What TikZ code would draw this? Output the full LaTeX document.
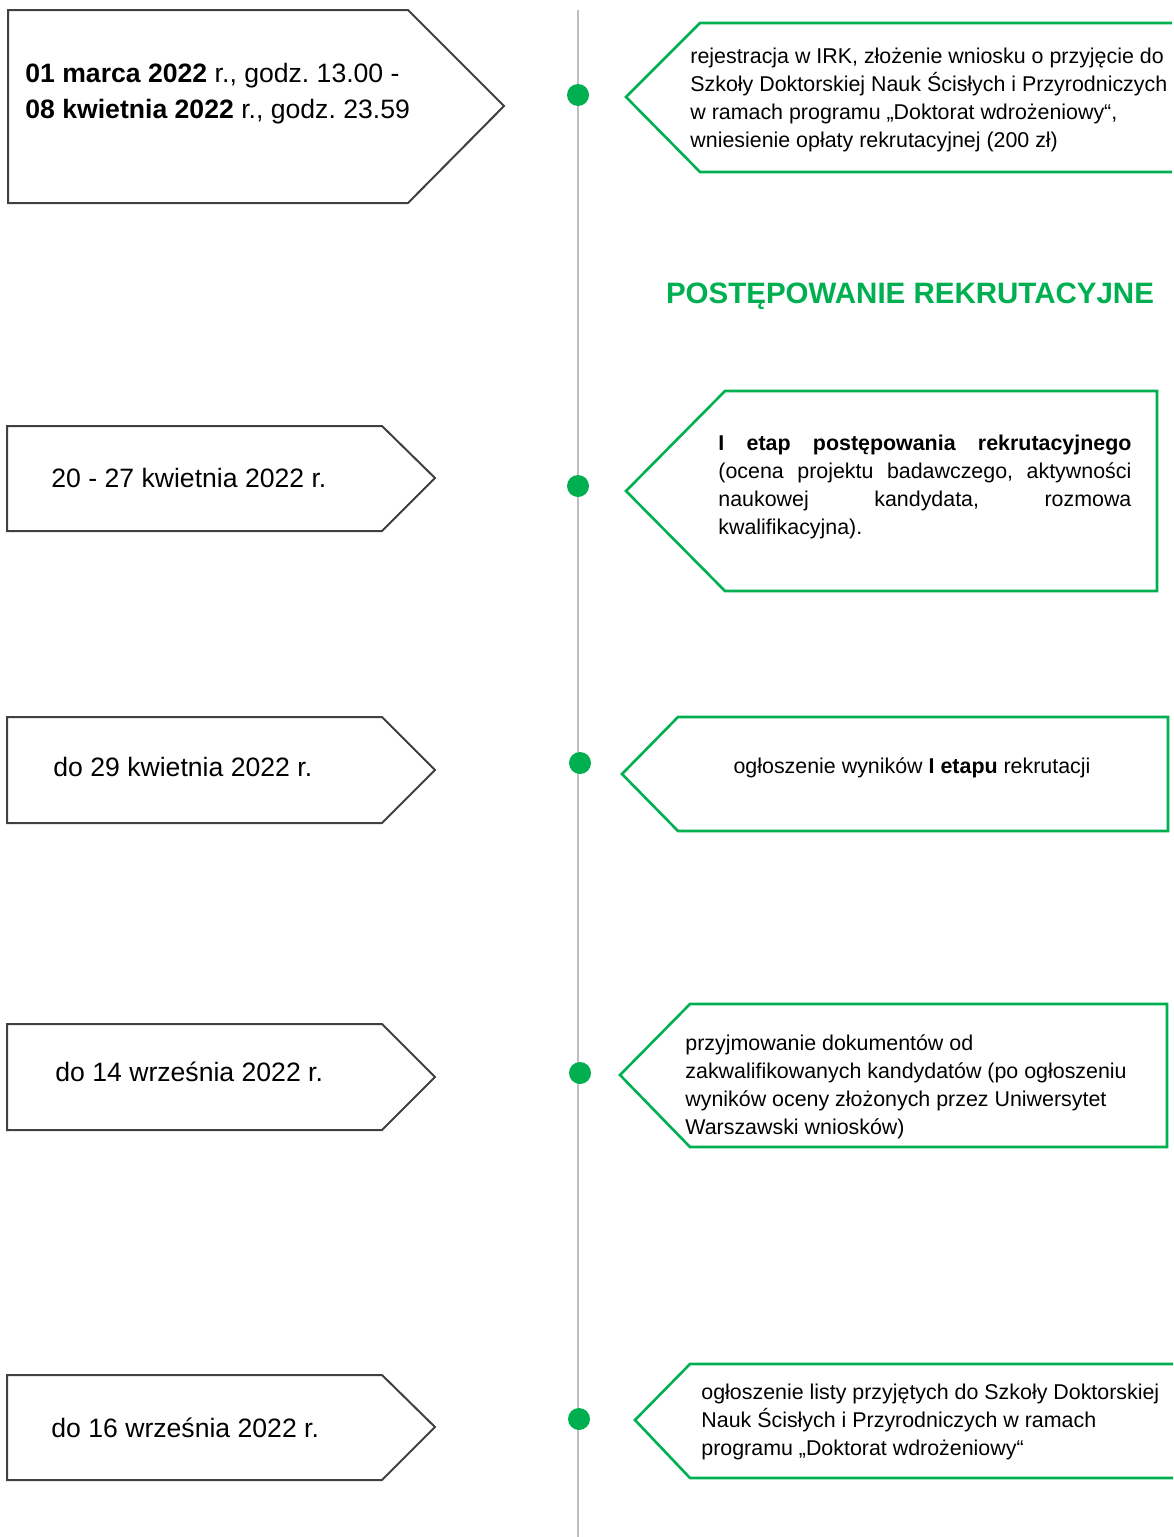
\documentclass[tikz,border=0pt]{standalone}
\usepackage{fontspec}
\setmainfont{Liberation Sans}
\definecolor{grn}{HTML}{00B050}
\definecolor{dgray}{HTML}{404040}
\definecolor{lgray}{HTML}{BFBFBF}
\frenchspacing
\begin{document}
\frenchspacing
\begin{tikzpicture}[x=0.5pt,y=-0.5pt,
  datebox/.style={draw=dgray,line width=1pt,line join=miter},
  stagebox/.style={draw=grn,line width=1.3pt,line join=miter},
  datetext/.style={inner sep=0,anchor=base west,align=flush left,text width=220pt,font=\fontsize{13.3}{18}\selectfont},
  stagetext/.style={inner sep=0,anchor=base west,align=flush left,text width=245pt,font=\fontsize{10.7}{14.15}\selectfont},
  dot/.style={circle,fill=grn,minimum size=11pt,inner sep=0}]
\useasboundingbox (0,0) rectangle (1173,1537);
% timeline
\coordinate (ltop) at (578,10);
\coordinate (lbot) at (578,1537);
\draw[lgray,line width=1pt] (ltop) -- (lbot);
\node[dot] (d1) at (578,95) {};
\node[dot] (d2) at (578,486) {};
\node[dot] (d3) at (580,763) {};
\node[dot] (d4) at (580,1073) {};
\node[dot] (d5) at (579,1419) {};
% date boxes
\draw[datebox] (8,10) -- (408,10) -- (504,106) -- (408,203) -- (8,203) -- cycle;
\draw[datebox] (7,426) -- (382,426) -- (435,478) -- (382,531) -- (7,531) -- cycle;
\draw[datebox] (7,717) -- (382,717) -- (435,770) -- (382,823) -- (7,823) -- cycle;
\draw[datebox] (7,1024) -- (382,1024) -- (435,1077) -- (382,1130) -- (7,1130) -- cycle;
\draw[datebox] (7,1375) -- (382,1375) -- (435,1427) -- (382,1480) -- (7,1480) -- cycle;
\node[datetext] (t1) at (25,82) {\textbf{01 marca 2022} r., godz. 13.00 -\\\textbf{08 kwietnia 2022} r., godz. 23.59};
\node[datetext] (t2) at (51,487) {20 - 27 kwietnia 2022 r.};
\node[datetext] (t3) at (53,776) {do 29 kwietnia 2022 r.};
\node[datetext] (t4) at (55,1081) {do 14 września 2022 r.};
\node[datetext] (t5) at (51,1437) {do 16 września 2022 r.};
% stage boxes
\draw[stagebox] (1172,23) -- (700,23) -- (626,97) -- (700,172) -- (1172,172);
\draw[stagebox] (1157,391) -- (725,391) -- (626,491) -- (725,591) -- (1157,591) -- cycle;
\draw[stagebox] (1168,717) -- (678,717) -- (622,774) -- (678,831) -- (1168,831) -- cycle;
\draw[stagebox] (1167,1004) -- (690,1004) -- (620,1075) -- (690,1147) -- (1167,1147) -- cycle;
\draw[stagebox] (1173,1364) -- (690,1364) -- (635,1420) -- (690,1478) -- (1173,1478);
\node[stagetext] (s1) at (690,63) {rejestracja w IRK, złożenie wniosku o przyjęcie do\\Szkoły Doktorskiej Nauk Ścisłych i Przyrodniczych\\w ramach programu „Doktorat wdrożeniowy“,\\wniesienie opłaty rekrutacyjnej (200 zł)};
\node[font=\bfseries\fontsize{14.75}{17}\selectfont,text=grn,anchor=base,inner sep=0] (title) at (910,303) {POSTĘPOWANIE REKRUTACYJNE};
\node[stagetext,text width=206.5pt,align=justify] (s2) at (718,450) {\textbf{I etap postępowania rekrutacyjnego}\linebreak (ocena projektu badawczego, aktywności\linebreak naukowej kandydata, rozmowa\linebreak kwalifikacyjna).};
\node[stagetext,text width=,align=center,anchor=base] (s3) at (912,773) {ogłoszenie wyników \textbf{I etapu} rekrutacji};
\node[stagetext] (s4) at (685,1050) {przyjmowanie dokumentów od\\zakwalifikowanych kandydatów (po ogłoszeniu\\wyników oceny złożonych przez Uniwersytet\\Warszawski wniosków)};
\node[stagetext] (s5) at (701,1399) {ogłoszenie listy przyjętych do Szkoły Doktorskiej\\Nauk Ścisłych i Przyrodniczych w ramach\\programu „Doktorat wdrożeniowy“};
\end{tikzpicture}
\end{document}
